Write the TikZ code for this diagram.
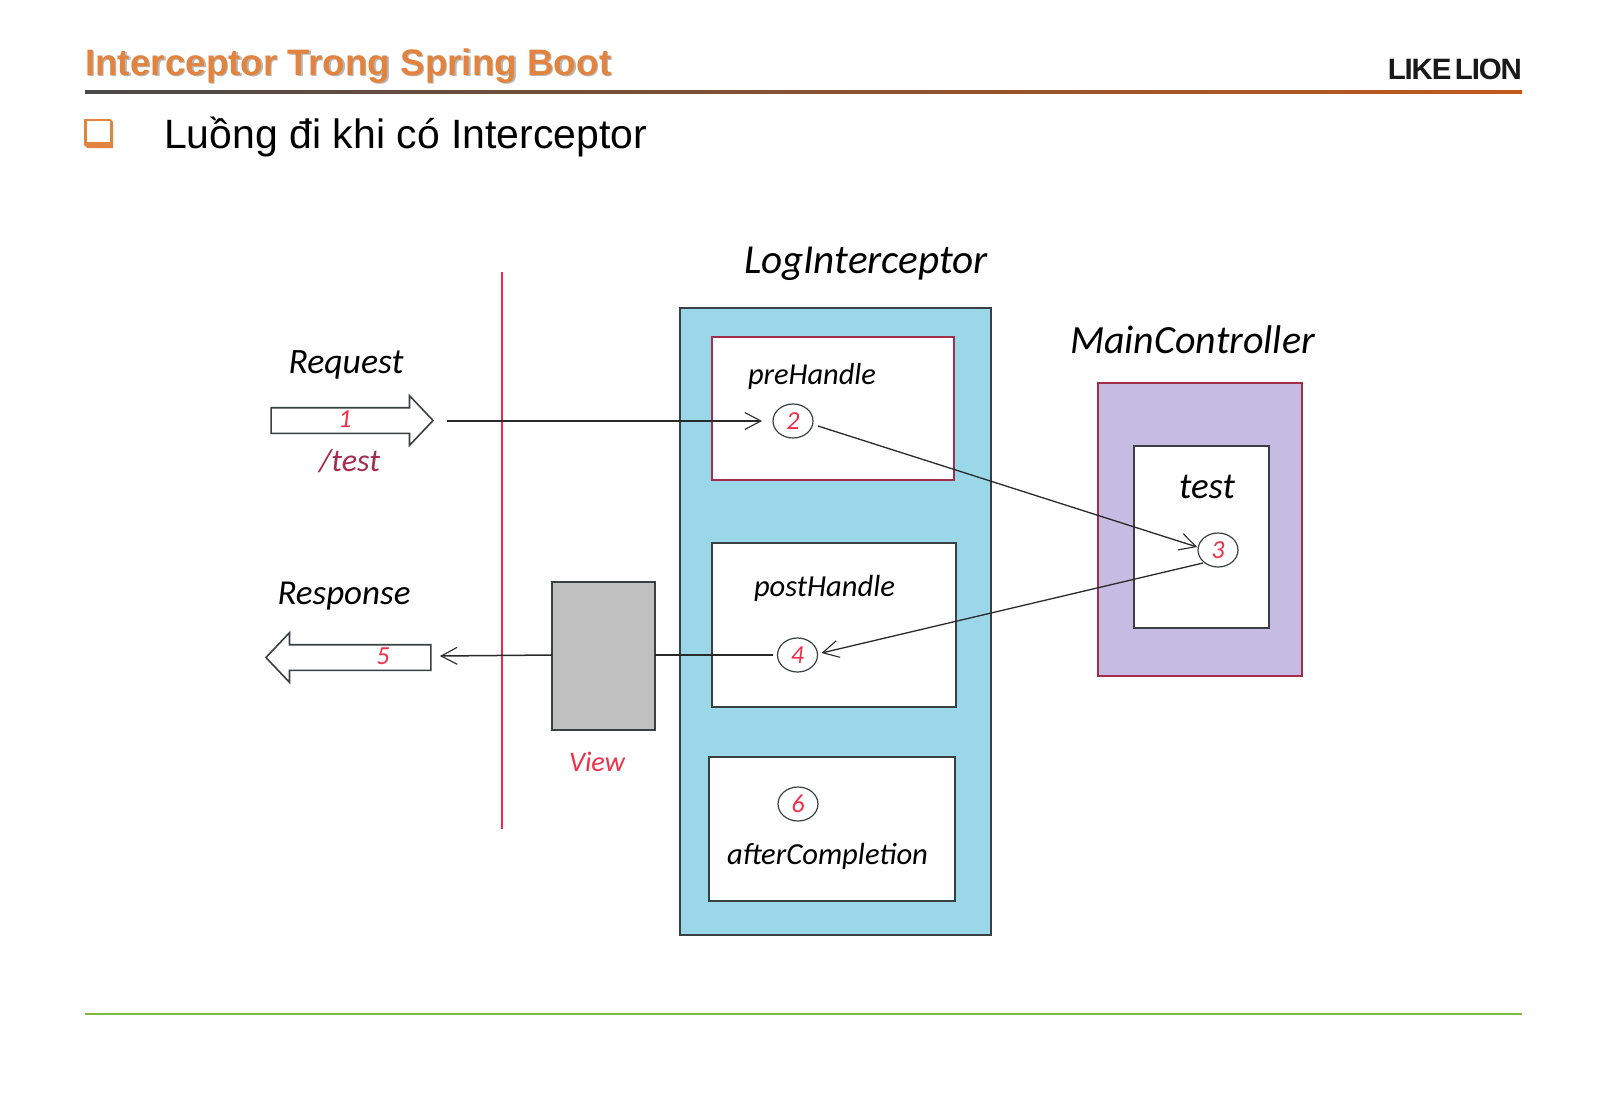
\documentclass[tikz,border=0pt]{standalone}
\usepackage{fontspec}
\usepackage{graphicx}
\usetikzlibrary{shapes.arrows,shapes.geometric,arrows.meta}
\setmainfont{Liberation Sans}
\newfontfamily\handfont[ItalicFont=* Italic]{Carlito}
\newcommand\fitw[2]{\resizebox{#1pt}{!}{#2}}
\definecolor{inkdark}{HTML}{3A3F42}
\definecolor{connink}{HTML}{2A2A2A}
\definecolor{crim}{HTML}{A42C4C}
\definecolor{numred}{HTML}{F03048}
\definecolor{divred}{HTML}{EE2A44}
\definecolor{orangeT}{HTML}{E2843F}
\definecolor{bluefill}{HTML}{9AD8E9}
\definecolor{purplefill}{HTML}{C6BCE3}
\definecolor{grayfill}{HTML}{C0C0C0}
\definecolor{lineL}{HTML}{4A4A4A}
\definecolor{lineR}{HTML}{C25A1C}
\definecolor{footgreen}{HTML}{7DB83A}
\tikzset{
  box/.style={draw=inkdark,line width=1.8pt,inner sep=0pt,outer sep=0pt,fill=white,anchor=north west},
  hand/.style={font=\handfont\itshape\fontsize{32}{36}\selectfont,anchor=base,inner sep=0pt,text=black},
  num/.style={font=\handfont\itshape\fontsize{26}{28}\selectfont,text=numred,inner sep=0pt},
  circ/.style={draw=inkdark,line width=1.2pt,fill=white,ellipse,minimum width=40pt,minimum height=34pt,inner sep=0pt,outer sep=0pt,font=\handfont\itshape\fontsize{26}{28}\selectfont,text=numred},
  fat/.style={single arrow,draw=inkdark,fill=white,line width=1.6pt,inner sep=0pt,outer sep=0pt,single arrow head extend=12pt,single arrow tip angle=93},
  conn/.style={draw=connink,line width=1.5pt},
  barb/.style={-{Straight Barb[length=16pt,width=17pt,line width=1.1pt]}}
}
\begin{document}
\begin{tikzpicture}[x=1pt,y=-1pt]
\useasboundingbox (0,0) rectangle (1600,1108);
% header
\shade[left color=lineL,right color=lineR] (85,90.5) rectangle (1522,93.5);
\node[anchor=base west,inner sep=0pt,text=black!28,font=\bfseries\fontsize{36}{40}\selectfont] (titleshadow) at (86.5,76.5) {\fitw{526}{Interceptor Trong Spring Boot}};
\node[anchor=base west,inner sep=0pt,text=orangeT,font=\bfseries\fontsize{36}{40}\selectfont] (title) at (85,75) {\fitw{526}{Interceptor Trong Spring Boot}};
\node[anchor=base east,inner sep=0pt,text=black!90,font=\bfseries\fontsize{28}{30}\selectfont\addfontfeature{LetterSpace=-4}] (brand) at (1522,80) {\fitw{134}{LIKE\hspace{0.12em}LION}};
% bullet
\fill[orangeT] (84,119) -- (110,119) -- (113,122) -- (113,148) -- (87,148) -- (84,145) -- cycle;
\fill[white] (86.5,120.5) rectangle (109.5,141.5);
\node[anchor=base west,inner sep=0pt,font=\fontsize{40}{44}\selectfont] (sub) at (164,148) {\fitw{483}{Luồng đi khi có Interceptor}};
% red divider
\fill[divred] (500.5,272) rectangle (502.5,829);
% containers
\node[box,fill=bluefill,minimum width=311pt,minimum height=627pt] (log) at (680,308) {};
\node[box,draw=crim,minimum width=242pt,minimum height=143pt] (pre) at (712,337) {};
\node[box,minimum width=244pt,minimum height=164pt] (post) at (712,543) {};
\node[box,minimum width=246pt,minimum height=144pt] (after) at (709,757) {};
\node[box,fill=grayfill,minimum width=103pt,minimum height=148pt] (view) at (552,582) {};
\node[box,draw=crim,fill=purplefill,minimum width=204pt,minimum height=293pt] (main) at (1098,383) {};
\node[box,minimum width=135pt,minimum height=182pt] (testbox) at (1134,446) {};
% circles
\node[circ] (c2) at (793,421) {2};
\node[circ] (c3) at (1218,550) {3};
\node[circ] (c4) at (797.5,655) {4};
\node[circ] (c6) at (798,804) {6};
% fat arrows
\node[fat,minimum height=162pt] (reqarrow) at (346,420.5) {\rule{0pt}{24pt}};
\node[fat,minimum height=165pt,shape border rotate=180] (resarrow) at (354.5,657.5) {\rule{0pt}{24pt}};
\node[num] (n1) at (345,419) {1};
\node[num] (n5) at (383,656) {5};
% connectors
\coordinate (reqstart) at (447,421);
\coordinate (respend) at (440,656);
\draw[conn,barb] (reqstart) -- ([xshift=-11pt]c2.west);
\draw[conn,barb,line width=1.3pt] ([xshift=5pt,yshift=-5pt]c2.east) -- ([xshift=-1pt,yshift=3pt]c3.west);
\draw[conn,barb,line width=1.3pt] ([xshift=-15pt,yshift=-13pt]c3.center) -- ([xshift=4pt,yshift=2pt]c4.east);
\draw[conn] (view.east |- c4) -- ([xshift=-5pt]c4.west);
\draw[conn,barb] (view.west |- c4) -- (respend);
% handwritten labels
\node[hand] (l1) at (866,273) {\fitw{244}{LogInterceptor}};
\node[hand] (l2) at (1192.5,353) {\fitw{245}{MainController}};
\node[hand] (l3) at (346,373) {\fitw{115}{Request}};
\node[hand] (l4) at (344,604) {\fitw{133}{Response}};
\node[hand,text=crim] (l5) at (349.5,471) {\fitw{61}{/test}};
\node[hand,text=numred] (l6) at (597,771) {\fitw{56}{View}};
\node[hand] (l7) at (812,384) {\fitw{128}{preHandle}};
\node[hand] (l8) at (824.5,596) {\fitw{141}{postHandle}};
\node[hand] (l9) at (827.5,864) {\fitw{201}{afterCompletion}};
\node[hand] (l10) at (1207,498) {\fitw{56}{test}};
% footer
\draw[draw=footgreen,line width=2pt] (85,1014) -- (1522,1014);
\end{tikzpicture}
\end{document}
